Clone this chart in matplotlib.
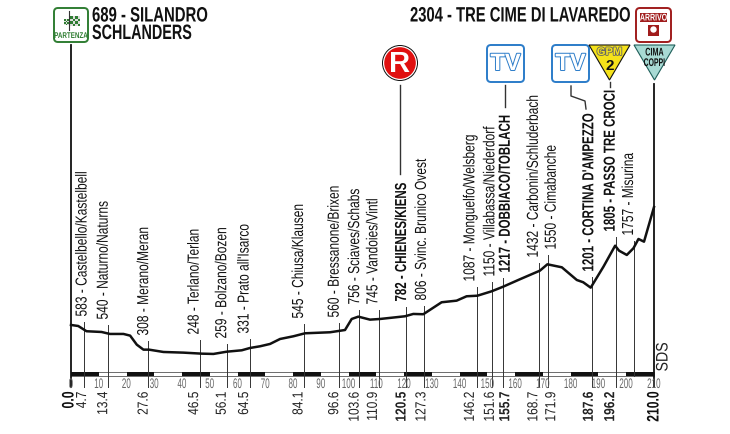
import matplotlib
matplotlib.use("Agg")
import matplotlib.pyplot as plt
from matplotlib.patches import Circle, FancyBboxPatch, Polygon, Rectangle
from matplotlib.patheffects import AbstractPathEffect
from matplotlib.transforms import Affine2D, Bbox, ScaledTranslation, blended_transform_factory
import matplotlib.patheffects as pe

plt.rcParams['font.family'] = ['Liberation Sans', 'DejaVu Sans']

# route profile, km and metres
profile_km = [0, 2.6, 5.6, 11.0, 14.0, 18.9, 21.3, 23.7, 26.1, 28.1, 33.3, 40.5, 47.1, 51.3, 56.1,
              61.5, 64.5, 68.1, 71.7, 75.3, 80.1, 84.3, 93.3, 98.7, 101.1, 103.5, 107.7, 111.3,
              120.3, 123.3, 126.9, 133.5, 138.9, 142.5, 146.4, 151.5, 155.7, 161.7, 168.9, 171.6,
              176.8, 182.2, 184.5, 187.2, 191.8, 196.0, 197.4, 200.2, 202.6, 204.4, 206.4, 210.0]
profile_m = [689, 675, 603, 593, 566, 566, 543, 419, 351, 351, 319, 310, 296, 292, 323,
             342, 374, 397, 429, 497, 534, 575, 589, 620, 771, 803, 762, 771,
             808, 840, 836, 1000, 1022, 1082, 1090, 1150, 1214, 1315, 1433, 1520,
             1479, 1305, 1274, 1200, 1488, 1775, 1707, 1648, 1740, 1867, 1830, 2304]

town_km = [4.7, 13.4, 27.6, 46.5, 56.1, 64.5, 84.1, 96.6, 103.6, 110.9, 120.5, 127.3,
           146.2, 151.6, 155.7, 168.7, 171.9, 187.6, 196.2, 202.8]
town_names = ["583 - Castelbello/Kastelbell", "540 - Naturno/Naturns", "308 - Merano/Meran",
              "248 - Terlano/Terlan", "259 - Bolzano/Bozen", "331 - Prato all'Isarco",
              "545 - Chiusa/Klausen", "560 - Bressanone/Brixen", "756 - Sciaves/Schabs",
              "745 - Vandoies/Vintl", "782 - CHIENES/KIENS", "806 - Svinc. Brunico Ovest",
              "1087 - Monguelfo/Welsberg", "1150 - Villabassa/Niederdorf", "1217 - DOBBIACO/TOBLACH",
              "1432 - Carbonin/Schluderbach", "1550 - Cimabanche", "1201 - CORTINA D'AMPEZZO",
              "1805 - PASSO TRE CROCI", "1757 - Misurina"]
km_labels = ["4.7", "13.4", "27.6", "46.5", "56.1", "64.5", "84.1", "96.6", "103.6", "110.9", "120.5",
             "127.3", "146.2", "151.6", "155.7", "168.7", "171.9", "187.6", "196.2", ""]
bold_towns = ["782 - CHIENES/KIENS", "1217 - DOBBIACO/TOBLACH", "1201 - CORTINA D'AMPEZZO",
              "1805 - PASSO TRE CROCI"]
scale_ticks = list(range(0, 211, 10))

# layout in pixels: where each stem stops, and how far its text sits from it
stem_top = [323, 326, 342, 341, 345, 340, 325, 324, 311, 311, 308, 307,
            288, 283, 279, 264, 256, 278, 238, 242]
text_dx = [-2, -5, -4, -6, -5, -6, -6, -5, -4, -6, -4, -3, -7, -2, 2, -6, 3, -3, -5.5, -5.5]

GREEN = "#2f7d32"
RED = "#e01010"
DARK_RED = "#a01c1c"
BLUE = "#2b7cc9"


class Narrow(AbstractPathEffect):
    # squeezes glyphs along the writing direction, no condensed font is installed
    def __init__(self, sx, anchor):
        self.sx = sx
        self.anchor = anchor

    def draw_path(self, renderer, gc, tpath, affine, rgbFace=None):
        a = tpath.get_extents().x1 * self.anchor
        squeeze = Affine2D().translate(-a, 0).scale(self.sx, 1).translate(a, 0)
        renderer.draw_path(gc, tpath, squeeze + affine, rgbFace)


def narrow(t, sx, anchor=0.5):
    t.set_path_effects([Narrow(sx, anchor)])
    full = t.get_window_extent
    vertical = t.get_rotation() == 90

    def extent(renderer=None, dpi=None):
        b = full(renderer, dpi)
        if vertical:
            y0 = b.y0 + (b.y1 - b.y0) * anchor * (1 - sx)
            return Bbox.from_extents(b.x0, y0, b.x1, y0 + (b.y1 - b.y0) * sx)
        x0 = b.x0 + (b.x1 - b.x0) * anchor * (1 - sx)
        return Bbox.from_extents(x0, b.y0, x0 + (b.x1 - b.x0) * sx, b.y1)

    t.get_window_extent = extent
    return t


fig = plt.figure(figsize=(7.3, 4.35), dpi=100)

# overlay in image pixels for the signs and stems
px = fig.add_axes([0, 0, 1, 1])
px.set_xlim(0, 730)
px.set_ylim(435, 0)
px.axis("off")

ax = fig.add_axes([71 / 730, (435 - 374) / 435, 583 / 730, 374 / 435])
ax.set_xlim(0, 210)
ax.set_ylim(31, 31 + 374 / 0.073)
ax.axis("off")
ax.patch.set_alpha(0)

km_px = blended_transform_factory(ax.transData, px.transData)


def shift(dx):
    return km_px + ScaledTranslation(dx / 100, 0, fig.dpi_scale_trans)


# stems
for km, top, name, label, dx in zip(town_km, stem_top, town_names, km_labels, text_dx):
    is_bold = name in bold_towns
    weight = "bold" if is_bold else "normal"
    ax.plot([km, km], [top, 388 if label else 377], color="#333333", lw=0.7, transform=km_px, clip_on=False)
    narrow(ax.text(km, top - 5.5, name, rotation=90, ha="center", va="bottom", fontsize=11.5, fontweight=weight,
                   color="#111111", transform=shift(dx), clip_on=False), 0.75 if not is_bold else 0.72, 0)
    if label:
        narrow(ax.text(km, 392.5, label, rotation=90, ha="center", va="top", fontsize=10.5, fontweight=weight,
                       color="#222222", transform=shift(dx), clip_on=False), 0.82, 1)

# start and finish
ax.plot([0, 0], [46, 388], color="#111111", lw=1.3, transform=km_px, clip_on=False)
ax.plot([210, 210], [85, 388], color="#111111", lw=1.3, transform=km_px, clip_on=False)
narrow(ax.text(0, 392.5, "0.0", rotation=90, ha="center", va="top", fontsize=12, fontweight="bold",
               color="#111111", transform=shift(-2), clip_on=False), 0.74, 1)
narrow(ax.text(210, 392.5, "210.0", rotation=90, ha="center", va="top", fontsize=12, fontweight="bold",
               color="#111111", transform=km_px, clip_on=False), 0.73, 1)

# profile line
ax.plot(profile_km, profile_m, color="#111111", lw=1.8, solid_joinstyle="round", clip_on=False)

# km scale bar
ax.add_patch(Rectangle((0, 372.5), 210, 4.5, transform=km_px, fc="white", ec="#333333", lw=0.5, clip_on=False))
for start in scale_ticks[:-1:2]:
    ax.add_patch(Rectangle((start, 372.5), 10, 4.5, transform=km_px, fc="#111111", ec="none", clip_on=False))
for tick in scale_ticks:
    narrow(ax.text(tick, 385, str(tick), ha="center", va="center", fontsize=10, color="#666666",
                   transform=km_px, clip_on=False), 0.58)

narrow(ax.text(663, 358, "SDS", rotation=90, ha="center", va="center", fontsize=12, color="#222222",
               transform=px.transData, clip_on=False), 0.85)

# headings
narrow(px.text(92, 17, "689 - SILANDRO", fontsize=15, fontweight="bold", va="center", color="#111111"), 0.715, 0)
narrow(px.text(92, 34.5, "SCHLANDERS", fontsize=15, fontweight="bold", va="center", color="#111111"), 0.69, 0)
narrow(px.text(410, 17, "2304 - TRE CIME DI LAVAREDO", fontsize=15, fontweight="bold", va="center",
               color="#111111"), 0.71, 0)

# partenza sign
px.add_patch(FancyBboxPatch((54, 9), 34, 34, boxstyle="round,pad=0,rounding_size=4", fc="white", ec=GREEN, lw=1.4))
narrow(px.text(71, 37.5, "PARTENZA", ha="center", va="center", fontsize=6, color=GREEN, fontweight="bold"), 0.75)
px.plot([69, 69], [12, 31], color="#333333", lw=0.8)
for row in range(4):
    for col in range(4):
        color = GREEN if (row + col) % 2 == 0 else "#dddddd"
        px.add_patch(Rectangle((70 + col * 2.5, 17 + row * 2.5), 2.5, 2.5, fc=color, ec="none"))
        px.add_patch(Rectangle((64 + col * 1.5, 20 + row * 1.5), 1.5, 1.5, fc=color, ec="none"))

# arrivo sign
px.add_patch(FancyBboxPatch((636, 9), 35, 34, boxstyle="round,pad=0,rounding_size=4", fc="white", ec=DARK_RED, lw=1.4))
px.add_patch(Rectangle((640, 14), 27, 9, fc=DARK_RED, ec="none"))
narrow(px.text(653.5, 18.5, "ARRIVO", ha="center", va="center", fontsize=7, color="white", fontweight="bold"), 0.72)
px.add_patch(Rectangle((648, 26), 11, 11, fc=DARK_RED, ec="none"))
px.add_patch(Circle((653.5, 30.5), 3.2, fc="white", ec="none"))

# R sign
px.add_patch(Circle((400, 64), 18, fc="#111111", ec="none"))
px.add_patch(Circle((400, 64), 17, fc="white", ec="none"))
px.add_patch(Circle((400, 64), 15.8, fc=RED, ec="none"))
px.text(400, 64.5, "R", ha="center", va="center", fontsize=21, fontweight="bold", color="white")
px.plot([400, 400], [86, 175], color="#333333", lw=1)

# TV signs
for left in [487, 552]:
    px.add_patch(FancyBboxPatch((left, 46), 37, 37, boxstyle="round,pad=0,rounding_size=4", fc="white", ec=BLUE, lw=1.4))
    px.text(left + 18.5, 64.5, "TV", ha="center", va="center", fontsize=17, fontweight="bold", color="white",
            path_effects=[pe.withStroke(linewidth=1.4, foreground=BLUE)])
px.plot([505, 505], [86, 108], color="#333333", lw=1)
px.plot([571, 571, 585, 586], [87, 97, 102, 110], color="#333333", lw=1)
px.plot([610, 610], [83, 88], color="#333333", lw=1)

# GPM and Cima Coppi triangles
px.add_patch(Polygon([(589, 46), (630, 46), (609.5, 81)], closed=True, fc="#f5e21a", ec="#111111", lw=0.8))
px.text(609.5, 53, "GPM", ha="center", va="center", fontsize=8, fontweight="bold", color="#f5e21a",
        path_effects=[pe.withStroke(linewidth=1.2, foreground="#666666")])
px.text(609.5, 66, "2", ha="center", va="center", fontsize=11, fontweight="bold", color="#111111")
px.add_patch(Polygon([(634, 46), (675, 46), (654.5, 81)], closed=True, fc="#a8dad4", ec="#1f5f5a", lw=0.8))
narrow(px.text(654.5, 53.5, "CIMA", ha="center", va="center", fontsize=8, fontweight="bold", color="#111111"), 0.65)
narrow(px.text(654.5, 64, "COPPI", ha="center", va="center", fontsize=8, fontweight="bold", color="#111111"), 0.62)

fig.savefig("out.png", dpi=100)
